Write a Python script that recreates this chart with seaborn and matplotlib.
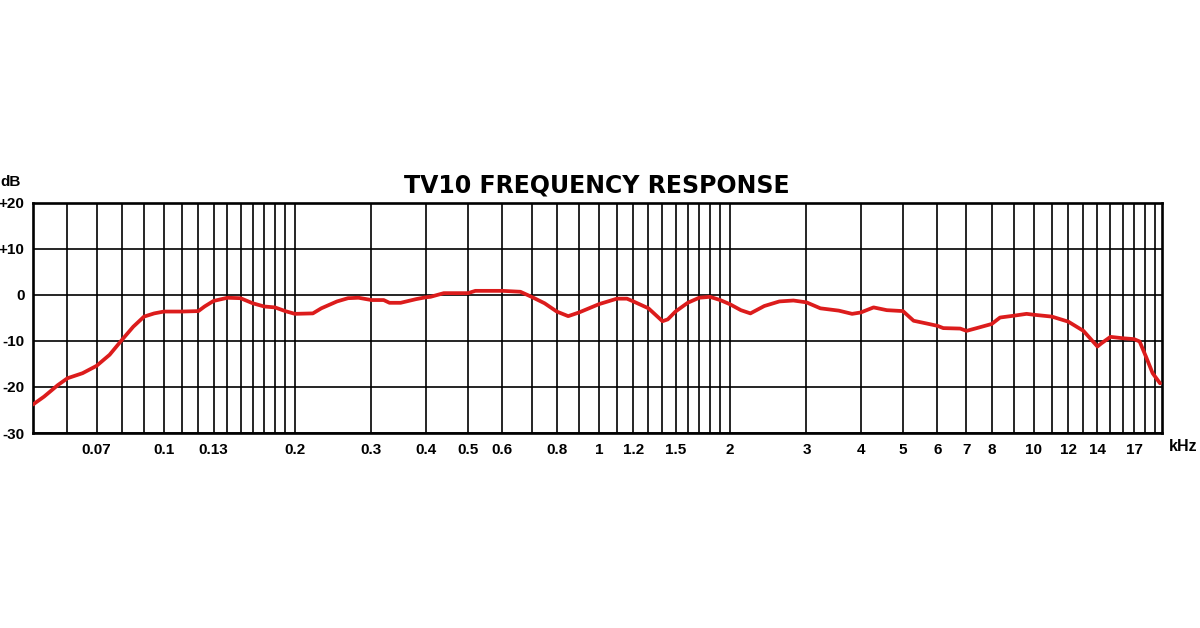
import numpy as np
import pandas as pd
import seaborn as sns
import matplotlib.pyplot as plt
from matplotlib.ticker import FixedLocator, NullLocator

# response curve (kHz, dB)
freq_khz = [0.050, 0.053, 0.057, 0.060, 0.065, 0.070, 0.075, 0.080, 0.085, 0.090,
            0.095, 0.100, 0.110, 0.120, 0.124, 0.130, 0.140, 0.150, 0.160, 0.170,
            0.180, 0.190, 0.200, 0.220, 0.230, 0.250, 0.265, 0.280, 0.300, 0.320,
            0.330, 0.350, 0.380, 0.400, 0.410, 0.440, 0.500, 0.520, 0.600, 0.660,
            0.700, 0.750, 0.800, 0.850, 0.900, 1.00, 1.10, 1.16, 1.20, 1.30,
            1.40, 1.44, 1.50, 1.60, 1.70, 1.80, 1.90, 2.00, 2.12, 2.23,
            2.40, 2.60, 2.80, 3.00, 3.23, 3.56, 3.82, 4.00, 4.28, 4.59,
            5.00, 5.29, 5.67, 6.00, 6.19, 6.77, 7.00, 7.39, 8.00, 8.36,
            9.00, 9.62, 10.0, 11.0, 12.0, 13.0, 14.0, 14.3, 15.0, 16.0,
            17.0, 17.5, 18.1, 18.75, 19.5]
level_db = [-23.8, -22.1, -19.6, -18.1, -17.0, -15.4, -13.0, -9.8, -6.9, -4.7,
            -4.0, -3.6, -3.6, -3.5, -2.5, -1.3, -0.6, -0.7, -1.8, -2.5,
            -2.7, -3.5, -4.1, -4.0, -2.9, -1.4, -0.7, -0.6, -1.1, -1.1,
            -1.7, -1.7, -0.9, -0.5, -0.4, 0.4, 0.4, 0.9, 0.9, 0.7,
            -0.4, -1.8, -3.6, -4.6, -3.8, -2.0, -0.8, -0.8, -1.4, -2.9,
            -5.7, -5.3, -3.6, -1.7, -0.6, -0.4, -1.1, -2.0, -3.3, -4.0,
            -2.4, -1.4, -1.2, -1.6, -2.9, -3.4, -4.1, -3.8, -2.7, -3.3,
            -3.5, -5.6, -6.2, -6.7, -7.2, -7.3, -7.8, -7.2, -6.3, -4.9,
            -4.5, -4.1, -4.3, -4.7, -5.8, -7.8, -11.2, -10.5, -9.1, -9.4,
            -9.6, -10.1, -13.4, -17.0, -19.2]

# vertical grid lines and which of them carry a label
grid_khz = [0.06, 0.07, 0.08, 0.09,
            0.10, 0.11, 0.12, 0.13, 0.14, 0.15, 0.16, 0.17, 0.18, 0.19, 0.20,
            0.3, 0.4, 0.5, 0.6, 0.7, 0.8, 0.9,
            1.0, 1.1, 1.2, 1.3, 1.4, 1.5, 1.6, 1.7, 1.8, 1.9, 2.0,
            3, 4, 5, 6, 7, 8, 9,
            10, 11, 12, 13, 14, 15, 16, 17, 18, 19]
labelled = {0.07: "0.07", 0.10: "0.1", 0.13: "0.13", 0.20: "0.2", 0.3: "0.3",
            0.4: "0.4", 0.5: "0.5", 0.6: "0.6", 0.8: "0.8", 1.0: "1",
            1.2: "1.2", 1.5: "1.5", 2.0: "2", 3: "3", 4: "4", 5: "5", 6: "6",
            7: "7", 8: "8", 10: "10", 12: "12", 14: "14", 17: "17"}
db_ticks = [-30, -20, -10, 0, 10, 20]
db_labels = ["-30", "-20", "-10", "0", "+10", "+20"]

sns.set_style("white")
plt.rcParams['font.family'] = ['Liberation Sans Narrow', 'Liberation Sans', 'DejaVu Sans']
plt.rcParams['text.color'] = 'black'
plt.rcParams['xtick.color'] = 'black'
plt.rcParams['ytick.color'] = 'black'

df = pd.DataFrame({"kHz": freq_khz, "dB": level_db})

fig = plt.figure(figsize=(12, 6.28), dpi=100)
ax = fig.add_axes([0.0275, 0.3105, 0.9408, 0.3663])

sns.lineplot(data=df, x="kHz", y="dB", ax=ax, color="#dc1c1c", linewidth=2.7,
             zorder=5)

ax.set_xscale("log")
ax.set_xlim(0.05, 19.7)
ax.set_ylim(-30, 20)

ax.xaxis.set_major_locator(FixedLocator(grid_khz))
ax.xaxis.set_minor_locator(NullLocator())
ax.set_xticklabels([labelled.get(g, "") for g in grid_khz])
ax.set_yticks(db_ticks)
ax.set_yticklabels(db_labels)
ax.grid(True, which="major", color="black", linewidth=1.2)
ax.tick_params(length=0, labelsize=11, labelcolor="black")
ax.tick_params(axis="x", pad=7)
ax.tick_params(axis="y", pad=6)
for lab in ax.get_xticklabels() + ax.get_yticklabels():
    lab.set_fontweight("bold")
for sp in ax.spines.values():
    sp.set_visible(True)
    sp.set_color("black")
    sp.set_linewidth(1.9)
ax.set_xlabel("")
ax.set_ylabel("")

fig.text(0.0, 0.71, "dB", fontsize=11, fontweight="bold", ha="left", va="center")
fig.text(0.986, 0.2885, "kHz", fontsize=11.5, fontweight="bold", ha="center", va="center")
fig.text(0.4975, 0.705, "TV10 FREQUENCY RESPONSE", fontsize=17,
         fontweight="heavy", family="DejaVu Sans", ha="center", va="center")

fig.savefig("out.png", dpi=100, facecolor="white")
